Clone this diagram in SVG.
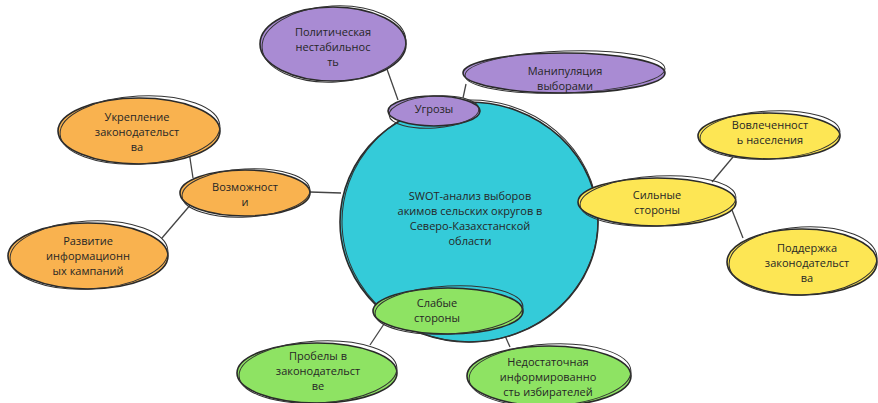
<svg xmlns="http://www.w3.org/2000/svg" width="878" height="403" viewBox="0 0 878 403">
<style>
.n{stroke:#2a2a2a;stroke-width:1.6}
.s{fill:none;stroke:#333;stroke-width:1}
.c{stroke:#444;stroke-width:1.3;fill:none}
.p{fill:#a98bd3}
.o{fill:#f9b24f}
.y{fill:#fde654}
.g{fill:#8ee363}
.b{fill:#34cbd9}
text{font-family:"Open Sans","Noto Sans","Liberation Sans",sans-serif;font-size:11px;fill:#262626;text-anchor:middle;dominant-baseline:central}
</style>
<rect width="878" height="403" fill="#ffffff"/>
<g id="connectors">
<line class="c" x1="398" y1="100" x2="383" y2="58"/>
<line class="c" x1="463" y1="98" x2="466" y2="84"/>
<line class="c" x1="310" y1="192" x2="341" y2="193"/>
<line class="c" x1="193" y1="178" x2="188" y2="145"/>
<line class="c" x1="192" y1="203" x2="162" y2="238"/>
<line class="c" x1="712" y1="182" x2="733" y2="157"/>
<line class="c" x1="730" y1="205" x2="743" y2="238"/>
<line class="c" x1="388" y1="318" x2="370" y2="345"/>
<line class="c" x1="498" y1="320" x2="510" y2="347"/>
</g>
<g id="center">
<ellipse class="n b" cx="469" cy="222" rx="129" ry="120"/>
<ellipse class="s" cx="470" cy="221" rx="128" ry="121" transform="rotate(-3 470 221)"/>
<text x="470" y="195">SWOT-анализ выборов</text>
<text x="470" y="210">акимов сельских округов в</text>
<text x="470" y="225">Северо-Казахстанской</text>
<text x="470" y="240">области</text>
</g>
<g id="threats">
<ellipse class="n p" cx="434" cy="111" rx="46" ry="15"/>
<ellipse class="s" cx="434" cy="112" rx="45" ry="16" transform="rotate(-4 434 112)"/>
<text x="434" y="108">Угрозы</text>
</g>
<g id="political">
<ellipse class="n p" cx="333" cy="44" rx="73" ry="37"/>
<ellipse class="s" cx="334" cy="44" rx="72" ry="38" transform="rotate(-3 334 44)"/>
<text x="333" y="31">Политическая</text>
<text x="333" y="46">нестабильнос</text>
<text x="333" y="61">ть</text>
</g>
<g id="manipulation">
<ellipse class="n p" cx="564" cy="73" rx="101" ry="20"/>
<ellipse class="s" cx="565" cy="72" rx="100" ry="21" transform="rotate(-2 565 72)"/>
<text x="565" y="70">Манипуляция</text>
<text x="565" y="85">выборами</text>
</g>
<g id="opportunities">
<ellipse class="n o" cx="245" cy="193" rx="65" ry="23"/>
<ellipse class="s" cx="246" cy="193" rx="64" ry="24" transform="rotate(-3 246 193)"/>
<text x="245" y="186">Возможност</text>
<text x="245" y="201">и</text>
</g>
<g id="strengthening">
<ellipse class="n o" cx="139" cy="131" rx="81" ry="33"/>
<ellipse class="s" cx="140" cy="130" rx="80" ry="34" transform="rotate(-3 140 130)"/>
<text x="137" y="116">Укрепление</text>
<text x="137" y="131">законодательст</text>
<text x="137" y="146">ва</text>
</g>
<g id="campaigns">
<ellipse class="n o" cx="88" cy="256" rx="80" ry="33"/>
<ellipse class="s" cx="89" cy="255" rx="79" ry="34" transform="rotate(-3 89 255)"/>
<text x="88" y="240">Развитие</text>
<text x="88" y="255">информационн</text>
<text x="88" y="270">ых кампаний</text>
</g>
<g id="strengths">
<ellipse class="n y" cx="657" cy="202" rx="79" ry="24"/>
<ellipse class="s" cx="658" cy="201" rx="78" ry="25" transform="rotate(-3 658 201)"/>
<text x="657" y="194">Сильные</text>
<text x="657" y="209">стороны</text>
</g>
<g id="involvement">
<ellipse class="n y" cx="769" cy="136" rx="71" ry="23"/>
<ellipse class="s" cx="770" cy="135" rx="70" ry="24" transform="rotate(-3 770 135)"/>
<text x="770" y="124">Вовлеченност</text>
<text x="770" y="139">ь населения</text>
</g>
<g id="support">
<ellipse class="n y" cx="802" cy="262" rx="75" ry="33"/>
<ellipse class="s" cx="803" cy="261" rx="74" ry="34" transform="rotate(-3 803 261)"/>
<text x="807" y="247">Поддержка</text>
<text x="807" y="262">законодательст</text>
<text x="807" y="277">ва</text>
</g>
<g id="weaknesses">
<ellipse class="n g" cx="448" cy="311" rx="75" ry="23"/>
<ellipse class="s" cx="449" cy="310" rx="74" ry="24" transform="rotate(-3 449 310)"/>
<text x="437" y="302">Слабые</text>
<text x="437" y="317">стороны</text>
</g>
<g id="gaps">
<ellipse class="n g" cx="317" cy="373" rx="80" ry="30"/>
<ellipse class="s" cx="318" cy="372" rx="79" ry="31" transform="rotate(-3 318 372)"/>
<text x="318" y="355">Пробелы в</text>
<text x="318" y="370">законодательст</text>
<text x="318" y="385">ве</text>
</g>
<g id="awareness">
<ellipse class="n g" cx="549" cy="376" rx="82" ry="30"/>
<ellipse class="s" cx="550" cy="375" rx="81" ry="31" transform="rotate(-3 550 375)"/>
<text x="548" y="361">Недостаточная</text>
<text x="548" y="376">информированно</text>
<text x="548" y="391">сть избирателей</text>
</g>
</svg>
